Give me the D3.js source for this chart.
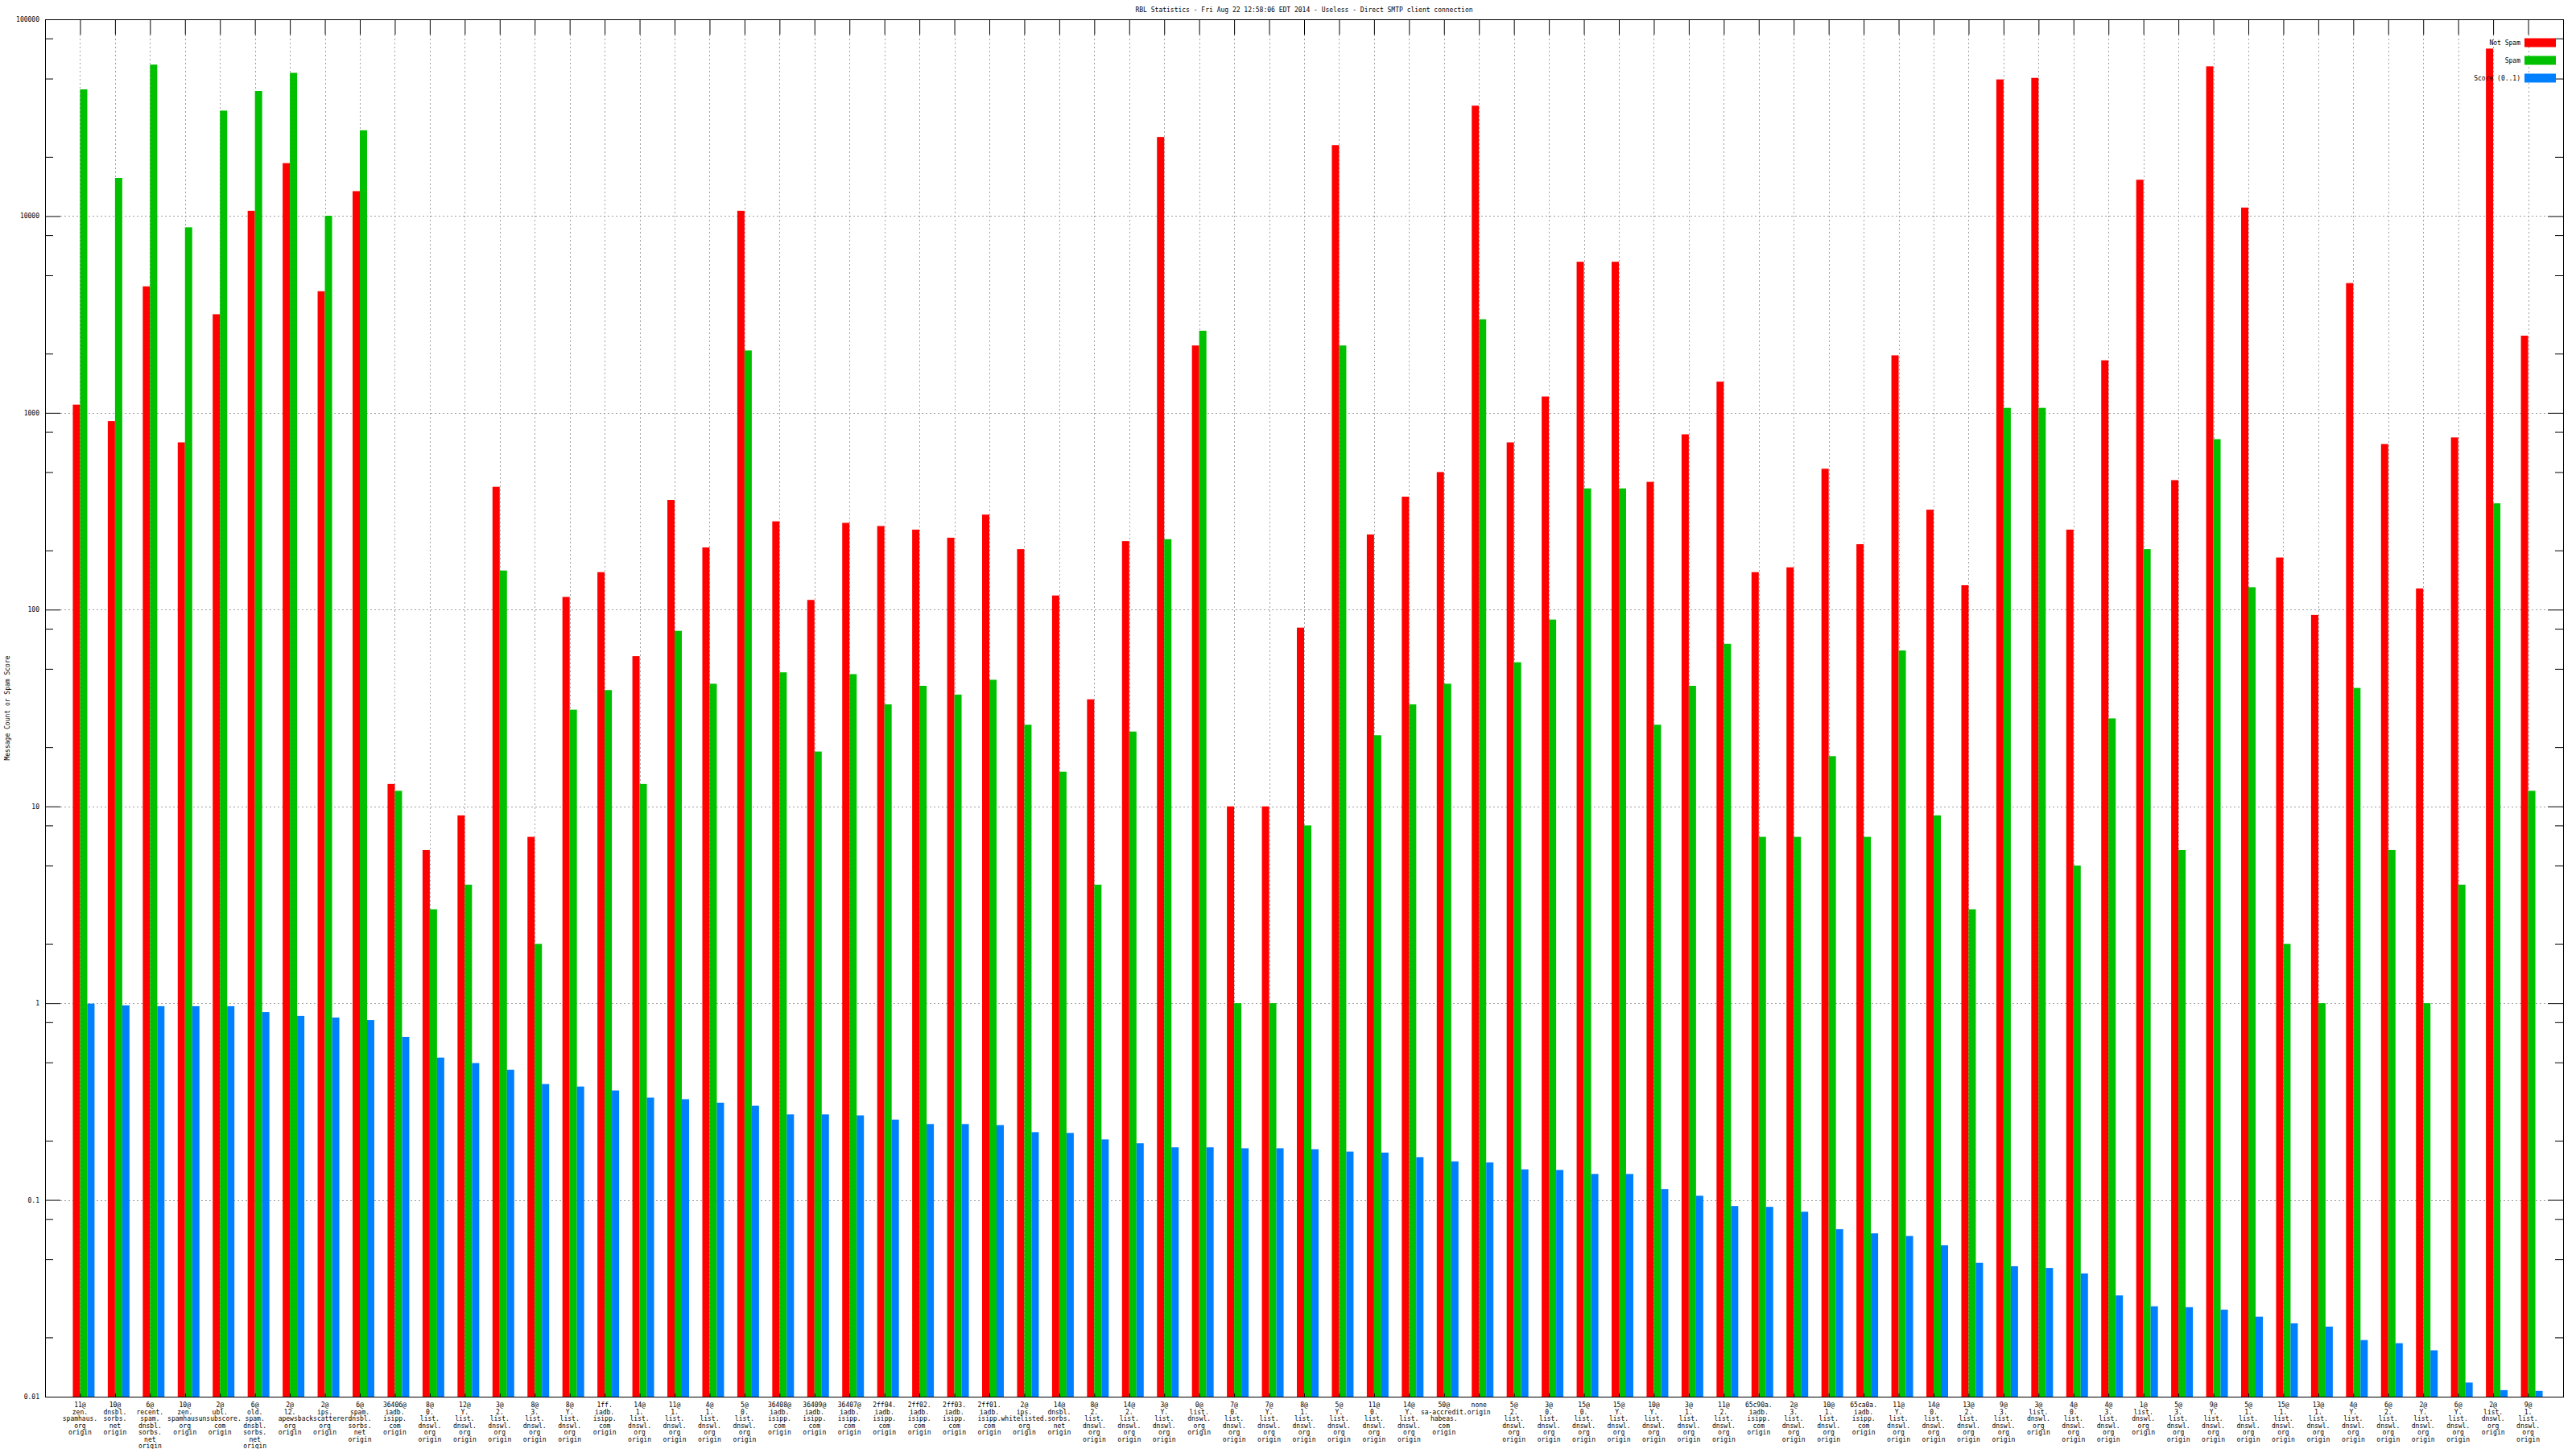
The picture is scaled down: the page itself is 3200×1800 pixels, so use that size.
<!DOCTYPE html>
<html><head><meta charset="utf-8">
<script src="https://cdn.jsdelivr.net/npm/d3@7"></script>
<style>
body{margin:0;background:#fff}
svg text{font-family:"DejaVu Sans Mono",monospace;font-size:8px;fill:#000}
</style>
</head><body>
<svg id="chart" width="3200" height="1800"></svg>
<script>
const title = "RBL Statistics - Fri Aug 22 12:58:06 EDT 2014 - Useless - Direct SMTP client connection";
const yLabel = "Message Count or Spam Score";
const seriesNames = ["Not Spam", "Spam", "Score (0..1)"];
const seriesColors = ["#ff0000", "#00c000", "#0080ff"];
const yTickValues = [100000, 10000, 1000, 100, 10, 1, 0.1, 0.01];
const yTickLabels = ["100000", "10000", "1000", "100", "10", "1", "0.1", "0.01"];

const categories = [
"11@zen.spamhaus.org origin","10@dnsbl.sorbs.net origin","6@recent.spam.dnsbl.sorbs.net origin","10@zen.spamhaus.org origin",
"2@ubl.unsubscore.com origin","6@old.spam.dnsbl.sorbs.net origin","2@l2.apews.org origin","2@ips.backscatterer.org origin",
"6@spam.dnsbl.sorbs.net origin","36406@iadb.isipp.com origin","8@0.list.dnswl.org origin","12@Y.list.dnswl.org origin",
"3@2.list.dnswl.org origin","8@3.list.dnswl.org origin","8@Y.list.dnswl.org origin","1ff.iadb.isipp.com origin",
"14@1.list.dnswl.org origin","11@1.list.dnswl.org origin","4@1.list.dnswl.org origin","5@0.list.dnswl.org origin",
"36408@iadb.isipp.com origin","36409@iadb.isipp.com origin","36407@iadb.isipp.com origin","2ff04.iadb.isipp.com origin",
"2ff02.iadb.isipp.com origin","2ff03.iadb.isipp.com origin","2ff01.iadb.isipp.com origin","2@ips.whitelisted.org origin",
"14@dnsbl.sorbs.net origin","8@2.list.dnswl.org origin","14@2.list.dnswl.org origin","3@Y.list.dnswl.org origin",
"0@list.dnswl.org origin","7@0.list.dnswl.org origin","7@Y.list.dnswl.org origin","8@1.list.dnswl.org origin",
"5@Y.list.dnswl.org origin","11@0.list.dnswl.org origin","14@Y.list.dnswl.org origin","50@sa-accredit.habeas.com origin",
"none origin","5@2.list.dnswl.org origin","3@0.list.dnswl.org origin","15@0.list.dnswl.org origin",
"15@Y.list.dnswl.org origin","10@Y.list.dnswl.org origin","3@1.list.dnswl.org origin","11@2.list.dnswl.org origin",
"65c90a.iadb.isipp.com origin","2@3.list.dnswl.org origin","10@1.list.dnswl.org origin","65ca0a.iadb.isipp.com origin",
"11@Y.list.dnswl.org origin","14@0.list.dnswl.org origin","13@2.list.dnswl.org origin","9@3.list.dnswl.org origin",
"3@list.dnswl.org origin","4@0.list.dnswl.org origin","4@3.list.dnswl.org origin","1@list.dnswl.org origin",
"5@3.list.dnswl.org origin","9@Y.list.dnswl.org origin","5@1.list.dnswl.org origin","15@1.list.dnswl.org origin",
"13@1.list.dnswl.org origin","4@Y.list.dnswl.org origin","6@2.list.dnswl.org origin","2@Y.list.dnswl.org origin",
"6@Y.list.dnswl.org origin","2@list.dnswl.org origin","9@1.list.dnswl.org origin"
];

const notSpam = [
1101, 908, 4395, 708, 3170, 10640, 18580, 4150, 13390, 13,
6, 9, 421, 7, 116, 155, 58, 361, 207, 10640,
281, 112, 276, 266, 255, 232, 304, 203, 118, 35,
223, 25240, 2200, 10, 10, 81, 22950, 241, 375, 500,
36400, 708, 1211, 5860, 5860, 446, 778, 1441, 155, 164,
520, 215, 1960, 322, 133, 49500, 50400, 255, 1850, 15300,
455, 57700, 11050, 184, 94, 4565, 694, 128, 750, 71000,
2468
];

const spam = [
44060, 15630, 58860, 8770, 34360, 43250, 53460, 10040, 27290, 12,
3, 4, 158, 2, 31, 39, 13, 78, 42, 2075,
48, 19, 47, 33, 41, 37, 44, 26, 15, 4,
24, 228, 2614, 1, 1, 8, 2200, 23, 33, 42,
2990, 54, 89, 413, 413, 26, 41, 67, 7, 7,
18, 7, 62, 9, 3, 1060, 1060, 5, 28, 203,
6, 735, 130, 2, 1, 40, 6, 1, 4, 347,
12
];

const score = [
0.995, 0.974, 0.965, 0.965, 0.965, 0.902, 0.862, 0.845, 0.821, 0.674,
0.529, 0.496, 0.459, 0.388, 0.377, 0.360, 0.331, 0.325, 0.312, 0.301,
0.272, 0.272, 0.269, 0.256, 0.243, 0.243, 0.240, 0.221, 0.219, 0.203,
0.194, 0.185, 0.185, 0.183, 0.183, 0.181, 0.176, 0.174, 0.165, 0.157,
0.155, 0.143, 0.142, 0.1355, 0.1355, 0.1135, 0.105, 0.0931, 0.0922, 0.0871,
0.0710, 0.0676, 0.0656, 0.0588, 0.0479, 0.0460, 0.0451, 0.0423, 0.0327, 0.0288,
0.0285, 0.0277, 0.0255, 0.0236, 0.0227, 0.0194, 0.0187, 0.0172, 0.0118, 0.0108,
0.0107
];

const series = [notSpam, spam, score];

const L = 56, R = 3184, T = 24, B = 1735;
const svg = d3.select("#chart");
const n = categories.length;
const idx = d3.range(n);
const x = d3.scaleLinear().domain([-1, n]).range([L, R]);
const y = d3.scaleLog().domain([0.01, 100000]).range([B, T]);
const bw = x(0.207) - x(0);
const MAJ = 19, MIN = 10;

const minorVals = [];
for (let e = -2; e < 5; e++) for (const k of [2, 5, 8]) minorVals.push(k * Math.pow(10, e));

// grid
const grid = svg.append("g").attr("stroke", "#a0a0a0").attr("stroke-width", 1).attr("stroke-dasharray", "2,3");
grid.selectAll("line.h").data(yTickValues.slice(1, -1)).join("line")
  .attr("x1", L + MAJ).attr("x2", R - MAJ)
  .attr("y1", d => Math.round(y(d)) + 0.5).attr("y2", d => Math.round(y(d)) + 0.5);
grid.selectAll("line.v").data(idx).join("line")
  .attr("x1", d => Math.round(x(d)) + 0.5).attr("x2", d => Math.round(x(d)) + 0.5)
  .attr("y1", T + MAJ).attr("y2", B);

// bars
series.forEach((vals, s) => {
  svg.append("g").attr("fill", seriesColors[s])
    .selectAll("rect").data(idx).join("rect")
    .attr("x", i => x(i) + (s - 1) * bw)
    .attr("width", bw)
    .attr("y", i => y(vals[i]))
    .attr("height", i => B - y(vals[i]));
});

// axes
function styleAxis(g) {
  g.select(".domain").remove();
  g.selectAll(".tick line").attr("stroke", "#000");
  g.selectAll(".tick text").attr("fill", "#000").style("font-family", "DejaVu Sans Mono").style("font-size", "8px");
}
svg.append("g").attr("transform", `translate(${L},0)`)
  .call(d3.axisLeft(y).tickValues(yTickValues).tickFormat((d, i) => yTickLabels[i]).tickSizeInner(-MAJ).tickSizeOuter(0).tickPadding(7))
  .call(styleAxis);
svg.append("g").attr("transform", `translate(${L},0)`)
  .call(d3.axisLeft(y).tickValues(minorVals).tickFormat("").tickSizeInner(-MIN).tickSizeOuter(0))
  .call(styleAxis);
svg.append("g").attr("transform", `translate(${R},0)`)
  .call(d3.axisRight(y).tickValues(yTickValues).tickFormat("").tickSizeInner(-MAJ).tickSizeOuter(0))
  .call(styleAxis);
svg.append("g").attr("transform", `translate(${R},0)`)
  .call(d3.axisRight(y).tickValues(minorVals).tickFormat("").tickSizeInner(-MIN).tickSizeOuter(0))
  .call(styleAxis);
svg.append("g").attr("transform", `translate(0,${T})`)
  .call(d3.axisTop(x).tickValues(idx).tickFormat("").tickSizeInner(-MAJ).tickSizeOuter(0))
  .call(styleAxis);
svg.append("g").attr("transform", `translate(0,${B})`)
  .call(d3.axisBottom(x).tickValues(idx).tickFormat("").tickSizeInner(-4).tickSizeOuter(0))
  .call(styleAxis);

// frame
svg.append("rect").attr("x", L + 0.5).attr("y", T + 0.5).attr("width", R - L).attr("height", B - T)
  .attr("fill", "none").attr("stroke", "#000").attr("stroke-width", 1);

// x labels
const lab = svg.append("g").attr("text-anchor", "middle");
idx.forEach(i => {
  const lines = categories[i].replace(/([@.])/g, "$1\n").replace(" ", "\n").split("\n").filter(s => s.length);
  const t = lab.append("text").attr("x", x(i)).attr("y", B + 13);
  lines.forEach((ln, j) => t.append("tspan").attr("x", x(i)).attr("dy", j === 0 ? 0 : 8.5).text(ln));
});

// title
svg.append("text").attr("x", (L + R) / 2).attr("y", 15).attr("text-anchor", "middle").text(title);
// y label
svg.append("text").attr("transform", `translate(12,${(T + B) / 2}) rotate(-90)`).attr("text-anchor", "middle").text(yLabel);

// legend
const leg = svg.append("g");
seriesNames.forEach((name, s) => {
  const cy = 53 + s * 22;
  leg.append("text").attr("x", 3131).attr("y", cy + 3).attr("text-anchor", "end").text(name);
  leg.append("rect").attr("x", 3136).attr("y", cy - 5.5).attr("width", 39).attr("height", 11).attr("fill", seriesColors[s]);
});
</script>
</body></html>
